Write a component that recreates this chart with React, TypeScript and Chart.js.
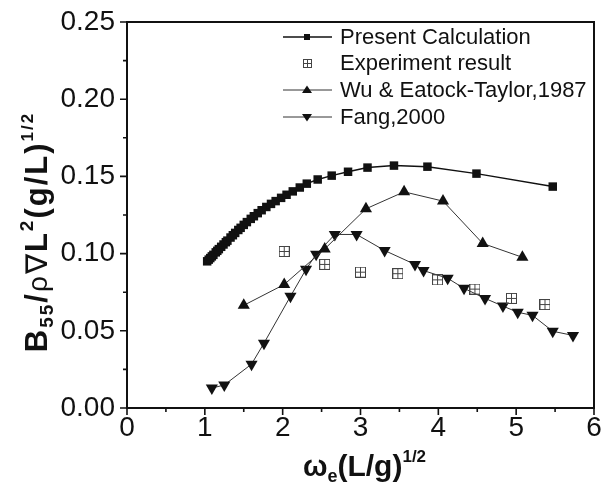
import React, { useEffect, useRef } from "react";
import { Chart, registerables } from "chart.js";

Chart.register(...registerables);

// ---------------- data ----------------
const presentX = [
  1.03, 1.05, 1.07, 1.09, 1.11, 1.14, 1.16, 1.18, 1.21, 1.24, 1.27, 1.29, 1.33, 1.36, 1.39,
  1.43, 1.46, 1.5, 1.54, 1.59, 1.63, 1.68, 1.73, 1.79, 1.85, 1.91, 1.98, 2.05, 2.13, 2.22,
  2.31, 2.45, 2.63, 2.84, 3.09, 3.43, 3.86, 4.49, 5.47,
];
const presentY = [
  0.095, 0.0961, 0.0971, 0.0982, 0.0992, 0.1008, 0.1018, 0.1029, 0.1044, 0.1059, 0.1074,
  0.1084, 0.1104, 0.1119, 0.1134, 0.1153, 0.1167, 0.1186, 0.1204, 0.1225, 0.1242, 0.1262,
  0.1281, 0.1302, 0.1322, 0.134, 0.1361, 0.1381, 0.1403, 0.1428, 0.1453, 0.148, 0.1505,
  0.153, 0.1557, 0.157, 0.1563, 0.1518, 0.1434,
];
const expX = [2.02, 2.54, 3.0, 3.48, 3.99, 4.47, 4.94, 5.37];
const expY = [0.1014, 0.093, 0.088, 0.087, 0.083, 0.077, 0.071, 0.067];
const wuX = [1.5, 2.02, 2.54, 3.07, 3.56, 4.06, 4.57, 5.08];
const wuY = [0.0665, 0.08, 0.103, 0.129, 0.14, 0.134, 0.1066, 0.0976];
const fangX = [
  1.09, 1.25, 1.6, 1.76, 2.1, 2.3, 2.43, 2.67, 2.95, 3.31, 3.7, 3.81, 4.12, 4.33, 4.6, 4.83,
  5.02, 5.21, 5.47, 5.73,
];
const fangY = [
  0.0129, 0.0149, 0.0284, 0.042, 0.0723, 0.0898, 0.0995, 0.1124, 0.1124, 0.102, 0.093, 0.089,
  0.084, 0.0775, 0.071, 0.066, 0.062, 0.06, 0.0497, 0.047,
];

const seriesLabels = [
  "Present Calculation",
  "Experiment result",
  "Wu & Eatock-Taylor,1987",
  "Fang,2000",
];
const xTickValues = [0, 1, 2, 3, 4, 5, 6];
const yTickValues = [0, 0.05, 0.1, 0.15, 0.2, 0.25];

const FONT = "'Liberation Sans', Arial, Helvetica, sans-serif";

function makeExpMarker(size: number, color: string): HTMLCanvasElement {
  const c = document.createElement("canvas");
  c.width = size;
  c.height = size;
  const g = c.getContext("2d")!;
  g.strokeStyle = color;
  g.lineWidth = 1;
  g.strokeRect(0.5, 0.5, size - 1, size - 1);
  const m = Math.floor(size / 2) + 0.5;
  g.beginPath();
  g.moveTo(m, 0);
  g.lineTo(m, size);
  g.moveTo(0, m);
  g.lineTo(size, m);
  g.stroke();
  return c;
}

type Part = { t: string; size: number; dy: number; weight?: string };

function drawRich(ctx: CanvasRenderingContext2D, parts: Part[], cx: number, baseY: number, spacing = 0) {
  let total = 0;
  const widths: number[] = [];
  (ctx as any).letterSpacing = `${spacing}px`;
  for (const p of parts) {
    ctx.font = `${p.weight ?? "bold"} ${p.size}px ${FONT}`;
    const w = ctx.measureText(p.t).width;
    widths.push(w);
    total += w;
  }
  let x = cx - total / 2;
  ctx.textAlign = "left";
  ctx.textBaseline = "alphabetic";
  parts.forEach((p, i) => {
    ctx.font = `${p.weight ?? "bold"} ${p.size}px ${FONT}`;
    ctx.fillText(p.t, x, baseY + p.dy);
    x += widths[i];
  });
  (ctx as any).letterSpacing = "0px";
}

const expMarker = makeExpMarker(11, "#444");
const expMarkerLegend = makeExpMarker(9, "#444");

const decorPlugin = {
  id: "decor",
  afterDraw(chart: any) {
    const ctx: CanvasRenderingContext2D = chart.ctx;
    const { left, right, top, bottom } = chart.chartArea;
    const xs = chart.scales.x;
    const ys = chart.scales.y;
    ctx.save();
    ctx.strokeStyle = "#111";
    ctx.fillStyle = "#111";
    // frame
    ctx.lineWidth = 2;
    ctx.strokeRect(left, top, right - left, bottom - top);
    // ticks
    ctx.lineWidth = 1.6;
    ctx.beginPath();
    for (let i = 0; i <= 12; i++) {
      const v = i * 0.5;
      const px = xs.getPixelForValue(v);
      const major = i % 2 === 0;
      ctx.moveTo(px, bottom);
      ctx.lineTo(px, bottom + (major ? 7 : 4));
    }
    for (let i = 0; i <= 10; i++) {
      const v = i * 0.025;
      const py = ys.getPixelForValue(v);
      const major = i % 2 === 0;
      ctx.moveTo(left, py);
      ctx.lineTo(left - (major ? 7 : 4), py);
    }
    ctx.stroke();

    // legend
    const lx0 = 283, lx1 = 332, lmx = 307, tx = 340;
    const rows = [37, 63, 90, 117];
    ctx.textBaseline = "middle";
    ctx.textAlign = "left";
    rows.forEach((ry, i) => {
      if (i !== 1) {
        ctx.lineWidth = i === 0 ? 1.5 : 1;
        ctx.strokeStyle = i === 0 ? "#111" : "#333";
        ctx.beginPath();
        ctx.moveTo(lx0, ry);
        ctx.lineTo(lx1, ry);
        ctx.stroke();
      }
      ctx.fillStyle = "#111";
      if (i === 0) {
        ctx.fillRect(lmx - 3, ry - 3, 6, 6);
      } else if (i === 1) {
        ctx.drawImage(expMarkerLegend, lmx - 4, ry - 4);
      } else if (i === 2) {
        ctx.beginPath();
        ctx.moveTo(lmx, ry - 4.5);
        ctx.lineTo(lmx + 5, ry + 3);
        ctx.lineTo(lmx - 5, ry + 3);
        ctx.closePath();
        ctx.fill();
      } else {
        ctx.beginPath();
        ctx.moveTo(lmx, ry + 4.5);
        ctx.lineTo(lmx + 5, ry - 3);
        ctx.lineTo(lmx - 5, ry - 3);
        ctx.closePath();
        ctx.fill();
      }
      ctx.fillStyle = "#111";
      ctx.font = `22px ${FONT}`;
      ctx.fillText(seriesLabels[i], tx, ry + 1);
    });

    // x title
    ctx.fillStyle = "#111";
    drawRich(
      ctx,
      [
        { t: "ω", size: 29, dy: 0 },
        { t: "e", size: 18, dy: 6 },
        { t: "(L/g)", size: 30, dy: 0 },
        { t: "1/2", size: 17, dy: -14 },
      ],
      (left + right) / 2 + 4,
      476
    );

    // y title (rotated)
    ctx.save();
    ctx.translate(47, 232);
    ctx.rotate(-Math.PI / 2);
    drawRich(
      ctx,
      [
        { t: "B", size: 31, dy: 0 },
        { t: "55", size: 19, dy: 6 },
        { t: "/", size: 31, dy: 0 },
        { t: "ρ", size: 28, dy: 0, weight: "normal" },
        { t: "∇", size: 30, dy: 0, weight: "normal" },
        { t: "L", size: 31, dy: 0 },
        { t: "2", size: 19, dy: -14 },
        { t: "(g/L)", size: 31, dy: 0 },
        { t: "1/2", size: 17, dy: -14 },
      ],
      0,
      0,
      2
    );
    ctx.restore();
    ctx.restore();
  },
};

export default function App() {
  const ref = useRef<HTMLCanvasElement | null>(null);
  useEffect(() => {
    if (!ref.current) return;
    const pts = (xs: number[], ys: number[]) => xs.map((x, i) => ({ x, y: ys[i] }));
    const chart = new Chart(ref.current, {
      type: "scatter",
      data: {
        datasets: [
          {
            label: seriesLabels[0],
            data: pts(presentX, presentY),
            showLine: true,
            borderColor: "#111",
            borderWidth: 1.5,
            pointStyle: "rect",
            pointRadius: 6,
            pointBackgroundColor: "#111",
            pointBorderColor: "#111",
            pointBorderWidth: 0,
          },
          {
            label: seriesLabels[1],
            data: pts(expX, expY),
            showLine: false,
            pointStyle: expMarker as any,
            pointRadius: 6,
          },
          {
            label: seriesLabels[2],
            data: pts(wuX, wuY),
            showLine: true,
            borderColor: "#333",
            borderWidth: 1,
            pointStyle: "triangle",
            pointRadius: 7,
            pointBackgroundColor: "#111",
            pointBorderColor: "#111",
            pointBorderWidth: 0,
          },
          {
            label: seriesLabels[3],
            data: pts(fangX, fangY),
            showLine: true,
            borderColor: "#333",
            borderWidth: 1,
            pointStyle: "triangle",
            rotation: 180,
            pointRadius: 7,
            pointBackgroundColor: "#111",
            pointBorderColor: "#111",
            pointBorderWidth: 0,
          },
        ],
      },
      options: {
        animation: false,
        responsive: false,
        devicePixelRatio: 1,
        layout: { padding: { top: 22, right: 19, left: 0, bottom: 0 } },
        plugins: { legend: { display: false }, tooltip: { enabled: false } },
        scales: {
          x: {
            type: "linear",
            min: 0,
            max: 6,
            afterFit: (s: any) => {
              s.height = 79;
              s.paddingLeft = 0;
              s.paddingRight = 0;
            },
            afterBuildTicks: (s: any) => {
              s.ticks = xTickValues.map((v) => ({ value: v }));
            },
            grid: { display: false, drawTicks: false },
            border: { display: false },
            ticks: {
              color: "#111",
              font: { family: FONT, size: 28 },
              padding: 3,
              maxRotation: 0,
              callback: (v: any) => String(v),
            },
          },
          y: {
            type: "linear",
            min: 0,
            max: 0.25,
            afterFit: (s: any) => {
              s.width = 127;
              s.paddingTop = 0;
              s.paddingBottom = 0;
            },
            afterBuildTicks: (s: any) => {
              s.ticks = yTickValues.map((v) => ({ value: v }));
            },
            grid: { display: false, drawTicks: false },
            border: { display: false },
            ticks: {
              color: "#111",
              font: { family: FONT, size: 28 },
              padding: 12,
              callback: (v: any) => Number(v).toFixed(2),
            },
          },
        },
      },
      plugins: [decorPlugin],
    });
    return () => chart.destroy();
  }, []);
  return (
    <div style={{ position: "absolute", left: 0, top: 0, width: 613, height: 487, background: "#fff" }}>
      <canvas ref={ref} width={613} height={487} style={{ width: 613, height: 487, display: "block" }} />
    </div>
  );
}
